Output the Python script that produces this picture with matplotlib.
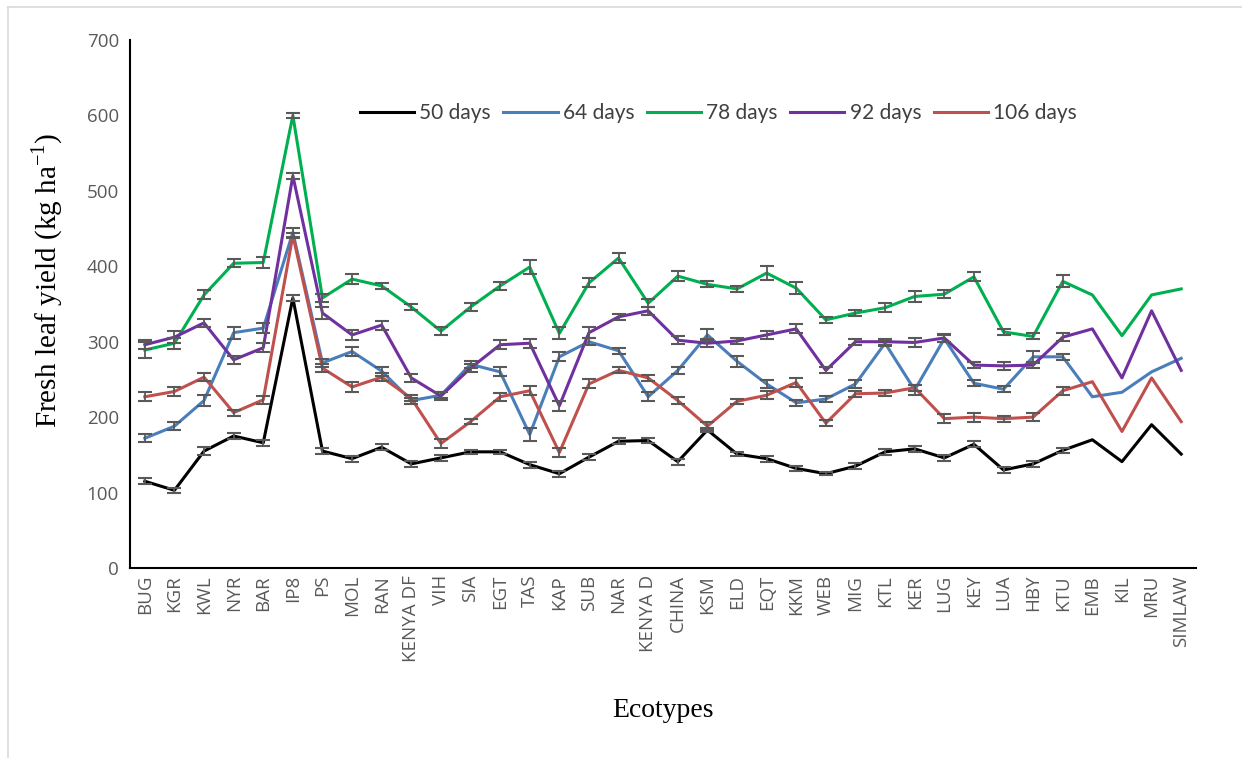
import numpy as np
import matplotlib
matplotlib.use("Agg")
import matplotlib.pyplot as plt
from matplotlib.lines import Line2D

ECOTYPES = ["BUG", "KGR", "KWL", "NYR", "BAR", "IP8", "PS", "MOL", "RAN", "KENYA DF",
            "VIH", "SIA", "EGT", "TAS", "KAP", "SUB", "NAR", "KENYA D", "CHINA", "KSM",
            "ELD", "EQT", "KKM", "WEB", "MIG", "KTL", "KER", "LUG", "KEY", "LUA",
            "HBY", "KTU", "EMB", "KIL", "MRU", "SIMLAW"]

LABELS = ["50 days", "64 days", "78 days", "92 days", "106 days"]

D50 = [115, 103, 155, 175, 166, 358, 155, 145, 160, 138,
       146, 154, 154, 137, 125, 147, 168, 169, 141, 183,
       151, 145, 132, 125, 135, 154, 158, 146, 164, 130,
       138, 156, 170, 141, 190, 151]
D64 = [172, 188, 222, 312, 318, 445, 272, 287, 261, 222,
       229, 270, 260, 177, 280, 300, 288, 227, 262, 309,
       274, 244, 219, 224, 244, 298, 236, 304, 245, 237,
       280, 280, 227, 233, 260, 278]
D78 = [289, 298, 362, 404, 405, 600, 358, 383, 374, 346,
       314, 346, 374, 399, 311, 378, 411, 351, 387, 376,
       370, 391, 371, 329, 338, 345, 360, 363, 386, 313,
       307, 380, 362, 308, 362, 370]
D92 = [296, 306, 325, 276, 292, 520, 338, 309, 322, 252,
       228, 265, 296, 298, 215, 312, 333, 341, 302, 298,
       301, 309, 317, 262, 300, 300, 299, 305, 269, 268,
       269, 306, 317, 252, 341, 262]
D106 = [227, 234, 253, 206, 223, 441, 265, 240, 253, 225,
        165, 194, 227, 235, 153, 244, 262, 252, 222, 188,
        221, 229, 246, 192, 231, 232, 239, 198, 200, 198,
        200, 235, 247, 181, 252, 194]

# standard errors (only the first 32 ecotypes have them)
E50 = [4, 3, 5, 4, 4, 4, 4, 4, 4, 4, 4, 3, 3, 4, 4, 4,
       4, 3, 4, 3, 3, 4, 3, 2, 4, 4, 4, 4, 4, 4, 4, 3]
E64 = [5, 5, 7, 8, 7, 6, 5, 6, 6, 4, 4, 5, 6, 8, 6, 5,
       4, 6, 5, 8, 7, 5, 4, 4, 5, 4, 6, 5, 4, 4, 8, 4]
E78 = [10, 7, 6, 5, 7, 3, 5, 7, 4, 4, 5, 5, 5, 9, 8, 6,
       6, 5, 7, 4, 4, 9, 8, 4, 4, 6, 7, 5, 6, 4, 4, 8]
E92 = [6, 8, 5, 5, 6, 4, 8, 7, 6, 5, 5, 5, 6, 6, 7, 7,
       4, 5, 5, 5, 4, 5, 6, 4, 4, 4, 6, 5, 4, 5, 4, 5]
E106 = [6, 6, 5, 4, 5, 3, 5, 7, 5, 4, 6, 3, 5, 6, 6, 6,
        4, 4, 5, 5, 3, 5, 6, 4, 4, 4, 4, 6, 6, 4, 5, 5]

COLORS = ["#000000", "#4a7ebb", "#00b050", "#7030a0", "#c0504d"]
GREY = "#595959"

fig = plt.figure(figsize=(12.42, 7.58), dpi=100)
ax = fig.add_axes([130 / 1242, 190 / 758, 1066 / 1242, 528 / 758])

x = np.arange(len(ECOTYPES))
series = [D50, D64, D78, D92, D106]
errors = [E50, E64, E78, E92, E106]

for vals, errs, col, lab in zip(series, errors, COLORS, LABELS):
    ax.plot(x, vals, color=col, lw=2.2, label=lab, zorder=3)
    n = len(errs)
    ax.errorbar(x[:n], vals[:n], yerr=errs, fmt="none", ecolor=GREY,
                elinewidth=1.3, capsize=5, capthick=1.5, zorder=4)

ax.set_xlim(-0.5, len(ECOTYPES) - 0.5)
ax.set_ylim(0, 700)
ax.set_yticks(range(0, 701, 100))
ax.set_xticks(x)
ax.set_xticklabels(ECOTYPES, rotation=90, fontsize=13.5, color=GREY,
                   family="Open Sans")
for t in ax.get_yticklabels():
    t.set_fontsize(13.5)
    t.set_color(GREY)
    t.set_family("Open Sans")
ax.tick_params(axis="x", length=0, pad=5)
ax.tick_params(axis="y", length=0, pad=8)

for s in ["top", "right"]:
    ax.spines[s].set_visible(False)
ax.spines["left"].set_color("black")
ax.spines["bottom"].set_color("black")
ax.spines["left"].set_linewidth(1.5)
ax.spines["bottom"].set_linewidth(1.5)

ax.set_ylabel("Fresh leaf yield (kg ha$^{\\mathregular{-1}}$)", family="Liberation Serif",
              fontsize=21)
ax.yaxis.set_label_coords(-0.061, 0.545)
ax.set_xlabel("Ecotypes", family="Liberation Serif", fontsize=20, labelpad=26)

handles = [Line2D([], [], color=c, lw=2.2) for c in COLORS]
leg = ax.legend(handles, LABELS, loc="center", bbox_to_anchor=(0.552, 0.862),
                ncol=5, frameon=False, handlelength=2.6, handletextpad=0.25,
                columnspacing=0.6, prop={"family": "Lato", "size": 15})
for t in leg.get_texts():
    t.set_color("#404040")

# light frame around the chart area (left and top edges)
fig.add_artist(Line2D([7.5 / 1242, 7.5 / 1242], [0, 1 - 7 / 758],
                      transform=fig.transFigure, color="#d9d9d9", lw=1.2))
fig.add_artist(Line2D([7.5 / 1242, 1], [1 - 7 / 758, 1 - 7 / 758],
                      transform=fig.transFigure, color="#d9d9d9", lw=1.2))

fig.savefig("out.png", dpi=100)
